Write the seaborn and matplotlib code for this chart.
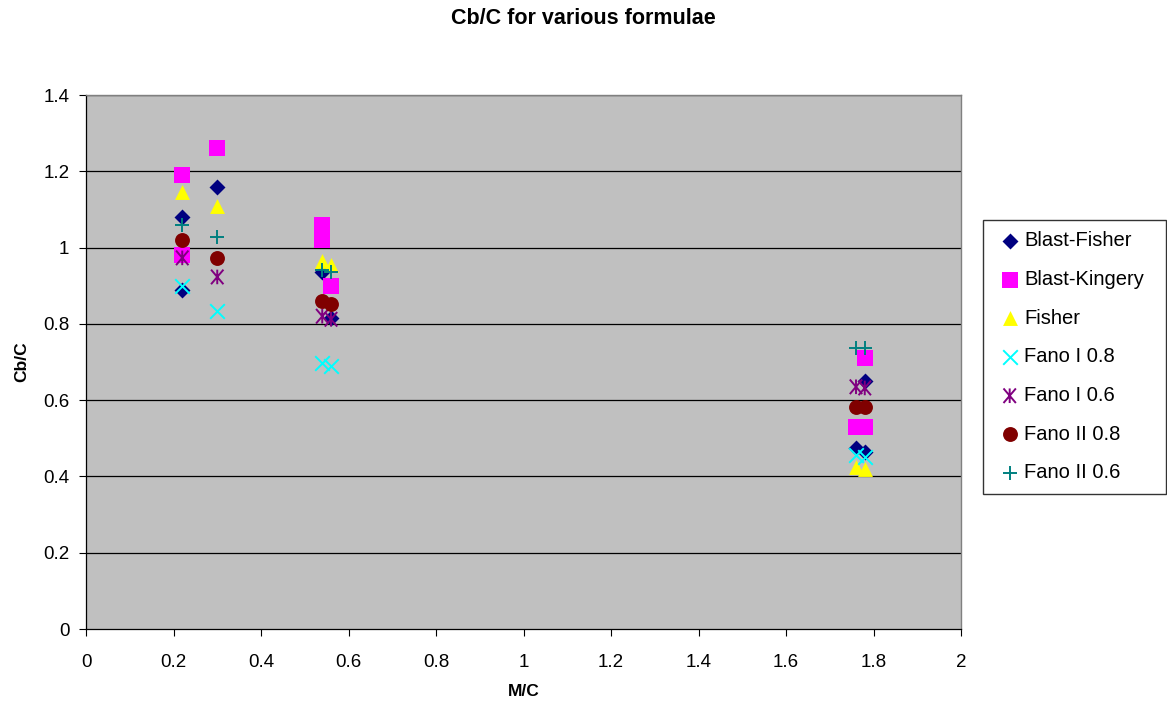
import matplotlib
matplotlib.use("Agg")
import matplotlib.pyplot as plt
import seaborn as sns
import numpy as np
import pandas as pd
from matplotlib.path import Path

# ---- data ----
series_names = ["Blast-Fisher", "Blast-Kingery", "Fisher", "Fano I 0.8",
                "Fano I 0.6", "Fano II 0.8", "Fano II 0.6"]

bf_x = [0.22, 0.22, 0.30, 0.54, 0.56, 1.76, 1.78, 1.78]
bf_y = [1.08, 0.89, 1.16, 0.935, 0.815, 0.475, 0.65, 0.465]

bk_x = [0.22, 0.22, 0.30, 0.54, 0.54, 0.56, 1.76, 1.78, 1.78]
bk_y = [1.19, 0.98, 1.26, 1.06, 1.02, 0.90, 0.53, 0.53, 0.71]

fi_x = [0.22, 0.30, 0.54, 0.56, 1.76, 1.78]
fi_y = [1.145, 1.11, 0.965, 0.955, 0.425, 0.42]

f108_x = [0.22, 0.30, 0.54, 0.56, 1.76, 1.78]
f108_y = [0.90, 0.835, 0.697, 0.69, 0.455, 0.45]

f106_x = [0.22, 0.30, 0.54, 0.56, 1.76, 1.78]
f106_y = [0.973, 0.923, 0.82, 0.812, 0.635, 0.632]

f208_x = [0.22, 0.30, 0.54, 0.56, 1.76, 1.78]
f208_y = [1.02, 0.973, 0.86, 0.852, 0.582, 0.582]

f206_x = [0.22, 0.30, 0.54, 0.56, 1.76, 1.78]
f206_y = [1.06, 1.028, 0.942, 0.936, 0.737, 0.737]

x_ticks = [0, 0.2, 0.4, 0.6, 0.8, 1.0, 1.2, 1.4, 1.6, 1.8, 2.0]
x_labels = ["0", "0.2", "0.4", "0.6", "0.8", "1", "1.2", "1.4", "1.6", "1.8", "2"]
y_ticks = [0, 0.2, 0.4, 0.6, 0.8, 1.0, 1.2, 1.4]
y_labels = ["0", "0.2", "0.4", "0.6", "0.8", "1", "1.2", "1.4"]

# ---- style ----
sns.set_style("white")
plt.rcParams['font.family'] = ['Liberation Sans', 'DejaVu Sans']
plt.rcParams['text.color'] = 'black'
plt.rcParams['axes.labelcolor'] = 'black'
plt.rcParams['xtick.color'] = 'black'
plt.rcParams['ytick.color'] = 'black'

# asterisk marker: X with a vertical bar
ast = Path([(-0.85, -1), (0.85, 1), (-0.85, 1), (0.85, -1), (0, -1), (0, 1)],
           [Path.MOVETO, Path.LINETO, Path.MOVETO, Path.LINETO, Path.MOVETO, Path.LINETO])

# (x, y, marker, colour, size, kind)
specs = [
    (bf_x, bf_y, "D", "#000080", 66, "filled"),
    (bk_x, bk_y, "s", "#FF00FF", 125, "filled"),
    (fi_x, fi_y, "^", "#FFFF00", 115, "filled"),
    (f108_x, f108_y, "x", "#00FFFF", 110, "line"),
    (f106_x, f106_y, ast, "#800080", 110, "path"),
    (f208_x, f208_y, "o", "#800000", 115, "filled"),
    (f206_x, f206_y, "+", "#008080", 105, "line"),
]

fig = plt.figure(figsize=(11.67, 7.10), dpi=100)
ax = fig.add_axes([86/1167, 1-629/710, (961-86)/1167, (629-95)/710])
ax.set_facecolor("#C0C0C0")

for name, (xs, ys, mk, col, s, kind) in zip(series_names, specs):
    df = pd.DataFrame({"x": xs, "y": ys})
    if kind == "filled":
        sns.scatterplot(data=df, x="x", y="y", marker=mk, color=col, s=s,
                        linewidth=0, ax=ax, label=name, zorder=3)
    elif kind == "line":
        sns.scatterplot(data=df, x="x", y="y", marker=mk, color=col, s=s,
                        linewidth=1.4, ax=ax, label=name, zorder=3)
    else:
        sns.scatterplot(data=df, x="x", y="y", marker=mk, color=col, s=s,
                        edgecolor=col, facecolor="none",
                        linewidth=1.4, ax=ax, label=name, zorder=3)

ax.set_xlim(0, 2)
ax.set_ylim(0, 1.4)
ax.set_xticks(x_ticks)
ax.set_xticklabels(x_labels, fontsize=13.5)
ax.set_yticks(y_ticks)
ax.set_yticklabels(y_labels, fontsize=13.5)
for yv in y_ticks[1:]:
    ax.axhline(yv, color="black", linewidth=0.9, zorder=1)
ax.tick_params(axis="x", direction="out", length=5, width=0.8, color="black",
               bottom=True, pad=13)
ax.tick_params(axis="y", direction="out", length=5, width=0.8, color="black",
               left=True, pad=7)

for side in ["top", "right"]:
    ax.spines[side].set_color("#808080")
    ax.spines[side].set_linewidth(1)
for side in ["left", "bottom"]:
    ax.spines[side].set_color("black")
    ax.spines[side].set_linewidth(0.9)

ax.set_xlabel("M/C", fontsize=12.5, fontweight="bold", labelpad=9)
ax.set_ylabel("Cb/C", fontsize=12.5, fontweight="bold", labelpad=10)
fig.suptitle("Cb/C for various formulae", fontsize=15.5, fontweight="bold",
             y=1-18/710, va="center")

leg = ax.legend(loc="upper left",
                bbox_to_anchor=(983/1167, 1-(220+280)/710, (1166-983)/1167, 280/710),
                bbox_transform=fig.transFigure, mode="expand",
                frameon=True, fancybox=False,
                fontsize=14.5, labelspacing=0.98, handletextpad=-0.05,
                borderpad=0.55, handlelength=1.55, borderaxespad=0)
leg.get_frame().set_edgecolor("black")
leg.get_frame().set_linewidth(1)
for t in leg.get_texts():
    t.set_color("black")

fig.savefig("out.png", dpi=100)
